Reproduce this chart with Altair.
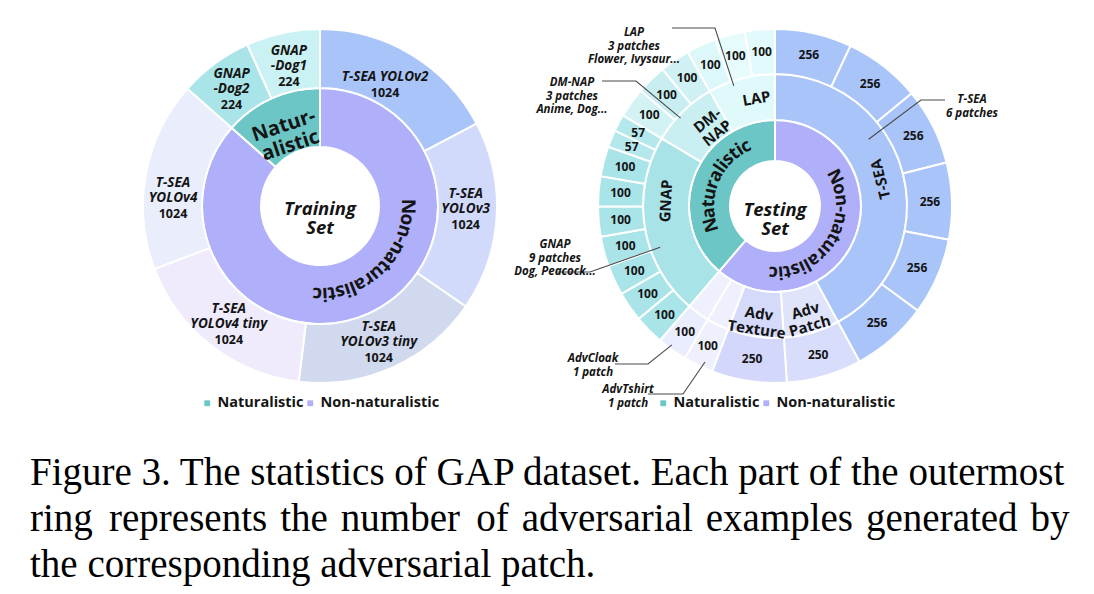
import math
import altair as alt
import pandas as pd

# ------------------------------------------------------------------
# Data
# ------------------------------------------------------------------
GROUPS = ["Naturalistic", "Non-naturalistic"]

# Training set (left sunburst): outer ring, clockwise from 12 o'clock
TRAIN_PATCH_LABELS = ["T-SEA YOLOv2", "T-SEA\nYOLOv3", "T-SEA\nYOLOv3 tiny",
                      "T-SEA\nYOLOv4 tiny", "T-SEA\nYOLOv4", "GNAP\n-Dog2", "GNAP\n-Dog1"]
TRAIN_PATCH_GROUP = ["Non-naturalistic", "Non-naturalistic", "Non-naturalistic",
                     "Non-naturalistic", "Non-naturalistic", "Naturalistic", "Naturalistic"]
TRAIN_PATCH_COUNTS = [1024, 1024, 1024, 1024, 1024, 224, 224]
# the left figure is not drawn to scale: angular size of each slice as drawn (degrees)
TRAIN_PATCH_DRAWN_DEG = [62.3, 62.3, 62.3, 62.3, 62.3, 24.25, 24.25]
TRAIN_INNER_LABELS = ["Non-naturalistic", "Natur-\nalistic"]

# Testing set (right sunburst): middle ring families, clockwise from 12 o'clock
TEST_FAMILIES = ["T-SEA", "Adv Patch", "Adv Texture", "AdvTshirt", "AdvCloak", "GNAP", "DM-NAP", "LAP"]
TEST_FAMILY_LABELS = ["T-SEA", "Adv\nPatch", "Adv\nTexture", "", "", "GNAP", "DM-\nNAP", "LAP"]
TEST_FAMILY_GROUP = ["Non-naturalistic", "Non-naturalistic", "Non-naturalistic", "Non-naturalistic",
                     "Non-naturalistic", "Naturalistic", "Naturalistic", "Naturalistic"]
# outer ring: one cell per adversarial patch
TEST_PATCH_FAMILY = ["T-SEA", "T-SEA", "T-SEA", "T-SEA", "T-SEA", "T-SEA",
                     "Adv Patch", "Adv Texture", "AdvTshirt", "AdvCloak",
                     "GNAP", "GNAP", "GNAP", "GNAP", "GNAP", "GNAP", "GNAP", "GNAP", "GNAP",
                     "DM-NAP", "DM-NAP", "DM-NAP", "LAP", "LAP", "LAP"]
TEST_PATCH_COUNTS = [256, 256, 256, 256, 256, 256, 250, 250, 100, 100,
                     100, 100, 100, 100, 100, 100, 100, 57, 57,
                     100, 100, 100, 100, 100, 100]

# call-out annotations on the testing set
CALLOUT_FAMILY = ["LAP", "DM-NAP", "GNAP", "T-SEA", "AdvCloak", "AdvTshirt"]
CALLOUT_TEXT = ["LAP\n3 patches\nFlower, Ivysaur...", "DM-NAP\n3 patches\nAnime, Dog...",
                "GNAP\n9 patches\nDog, Peacock...", "T-SEA\n6 patches",
                "AdvCloak\n1 patch", "AdvTshirt\n1 patch"]

CAPTION_LINES = ["Figure 3. The statistics of GAP dataset. Each part of the outermost",
                 "ring represents the number of adversarial examples generated by",
                 "the corresponding adversarial patch."]

# ------------------------------------------------------------------
# Styles / layout
# ------------------------------------------------------------------
FONT = "Open Sans"
INK = "#141414"
GROUP_COLORS = ["#6cc6c6", "#afaffa"]
TRAIN_OUTER_COLORS = ["#a9c4f9", "#d2dafc", "#d0d9ee", "#efebfc", "#e9edfc", "#a9e4e9", "#caf1f3"]
TEST_MID_COLORS = ["#a9c4f9", "#dfe3fc", "#d5dafb", "#eef0fd", "#eef0fd", "#a8e3e8", "#c9eff2", "#e0fafb"]
TEST_OUTER_COLORS = (["#a9c4f9"] * 6 + ["#d8ddfc", "#d2d7fb", "#eef0fd", "#eaedfd"]
                     + ["#a9e4e9"] * 7 + ["#b4e8ec", "#b4e8ec"]
                     + ["#d3f2f4", "#c8eef1", "#d0f1f3", "#dcf8fa", "#e6fbfc", "#e2fafb"])

M = 8  # page margin
L_CX, L_CY = 320 - M, 206 - M
R_CX, R_CY = 775 - M, 206 - M

# label placement tweaks (angle offset deg, radius px)
LEFT_LABEL_DANGLE = [-3, 0.5, 2, -2, -10, -2.5, -1]
LEFT_LABEL_R = [138, 146, 155, 155, 147, 141, 137]
RIGHT_MID_LABEL_DANGLE = [0, 0, 0, 0, 0, 12, 6, 5]

# call-out layout (page pixels): text centre, leader start/elbow, anchor position in slice
CALLOUT_LAYOUT = [
    dict(tx=634, ty=33, path=[(672, 28), (715, 28)], frac=0.36, r=127),
    dict(tx=572, ty=83, path=[(602, 81), (636, 81)], frac=0.41, r=129),
    dict(tx=555, ty=245, path=[(557, 272), (590, 272)], frac=0.37, r=122),
    dict(tx=972, ty=100, path=[(945, 100), (921, 100)], frac=0.36, r=115),
    dict(tx=593, ty=359, path=[(615, 364), (648, 364)], frac=0.60, r=173),
    dict(tx=628, ty=390, path=[(648, 394), (683, 394)], frac=0.34, r=171),
]

CHAR_EM = {"N": 0.76, "o": 0.62, "n": 0.64, "-": 0.34, "a": 0.6, "t": 0.43, "u": 0.64,
           "r": 0.45, "l": 0.29, "i": 0.29, "s": 0.5, "c": 0.51}


def stack_table(values):
    total = float(sum(values))
    starts, mids = [], []
    acc = 0.0
    for v in values:
        starts.append(acc)
        mids.append(acc + v / 2.0)
        acc += v
    return starts, mids, total


def readable_rot(deg):
    r = deg - 180 if deg < 240 else deg
    return r % 360


def curved_label(text, center_deg, radius_px, font_px, total):
    widths = [CHAR_EM.get(c, 0.6) * font_px for c in text]
    acc = -sum(widths) / 2.0
    rows = []
    for i, (c, w) in enumerate(zip(text, widths)):
        s = acc + w / 2.0
        deg = (center_deg + math.degrees(s / radius_px)) % 360
        rows.append({"ch": c, "theta": deg / 360.0 * total, "rot": deg, "k": i})
        acc += w
    return pd.DataFrame(rows)


def justify(line, extra):
    # widen word gaps slightly with hair / six-per-em spaces (justified caption)
    words = line.split(" ")
    out = words[0]
    for i, w in enumerate(words[1:]):
        out += " " + (extra[i] if i < len(extra) else "") + w
    return out


def legend(x):
    return alt.Legend(orient="none", legendX=x, legendY=388, direction="horizontal", title=None,
                      symbolType="square", symbolSize=34, symbolStrokeWidth=0,
                      labelFont=FONT, labelFontSize=14.5, labelFontWeight="bold",
                      labelColor=INK, columnPadding=-1, labelOffset=3, padding=0,
                      gridAlign="none")


def arcs(df, r0, r1, cx, cy, total, color_enc=None):
    enc = dict(theta=alt.Theta("value:Q", stack=True, scale=alt.Scale(domain=[0, total])),
               order=alt.Order("idx:Q"), x=alt.value(cx), y=alt.value(cy))
    if color_enc is not None:
        enc["color"] = color_enc
    else:
        enc["fill"] = alt.Fill("fill:N", scale=None)
    return alt.Chart(df).mark_arc(innerRadius=r0, outerRadius=r1, stroke="white",
                                  strokeWidth=2).encode(**enc)


def polar_text(df, field, cx, cy, total, radius=None, rot_field=None, theta_field="mid",
               radius_field=None, **kw):
    enc = dict(theta=alt.Theta(theta_field + ":Q", stack=False, scale=alt.Scale(domain=[0, total])),
               text=alt.Text(field), x=alt.value(cx), y=alt.value(cy))
    if rot_field:
        enc["angle"] = alt.Angle(rot_field + ":Q", scale=None)
    if radius_field:
        enc["radius"] = alt.Radius(radius_field + ":Q", scale=None)
    base = dict(font=FONT, color=INK, fontWeight="bold", lineBreak="\n")
    if radius is not None:
        base["radius"] = radius
    base.update(kw)
    return alt.Chart(df).mark_text(**base).encode(**enc)


def group_color():
    return alt.Color("group:N", scale=alt.Scale(domain=GROUPS, range=GROUP_COLORS))


# ------------------------------------------------------------------
# Left: training set
# ------------------------------------------------------------------
ls, lm, ltot = stack_table(TRAIN_PATCH_DRAWN_DEG)
left_outer = pd.DataFrame({"idx": range(len(TRAIN_PATCH_LABELS)), "value": TRAIN_PATCH_DRAWN_DEG,
                           "name": TRAIN_PATCH_LABELS, "count": [str(c) for c in TRAIN_PATCH_COUNTS],
                           "group": TRAIN_PATCH_GROUP, "fill": TRAIN_OUTER_COLORS, "mid": lm})
left_outer["lab_theta"] = [m + d / 360.0 * ltot for m, d in zip(lm, LEFT_LABEL_DANGLE)]
left_outer["lab_r"] = LEFT_LABEL_R
left_outer["nlines"] = [n.count("\n") + 1 for n in TRAIN_PATCH_LABELS]
left_inner = (left_outer.groupby("group", sort=False)["value"].sum().reset_index())
left_inner["idx"] = range(len(left_inner))
left_inner["label"] = TRAIN_INNER_LABELS
_, lim, _ = stack_table(list(left_inner["value"]))
left_inner["mid"] = lim
left_inner["rot"] = [(readable_rot(m / ltot * 360) + 6) % 360 for m in lim]

left_straight = left_inner[left_inner["group"] == "Naturalistic"]
nn_mid_deg = float(left_inner.loc[left_inner["group"] == "Non-naturalistic", "mid"].iloc[0]) / ltot * 360
left_curved = curved_label("Non-naturalistic", nn_mid_deg - 20.5, 88, 19, ltot)


def left_names(n, dy):
    return polar_text(left_outer, "name:N", L_CX, L_CY, ltot, theta_field="lab_theta",
                      radius_field="lab_r", baseline="alphabetic", fontStyle="italic",
                      fontSize=13.5, lineHeight=15, dy=dy).transform_filter(alt.datum.nlines == n)


left_layers = [
    arcs(left_inner, 59, 118, L_CX, L_CY, ltot,
         color_enc=group_color().legend(legend(192))),
    arcs(left_outer, 118, 177, L_CX, L_CY, ltot),
    left_names(1, -3),
    left_names(2, -18),
    polar_text(left_outer, "count:N", L_CX, L_CY, ltot, theta_field="lab_theta",
               radius_field="lab_r", baseline="top", fontSize=12.5, dy=3),
    polar_text(left_straight, "label:N", L_CX, L_CY, ltot, 88, rot_field="rot",
               fontSize=20, lineHeight=21, baseline="middle"),
    alt.Chart(left_curved).mark_text(radius=88, font=FONT, fontWeight="bold", fontSize=19,
                                     color=INK, baseline="middle").encode(
        theta=alt.Theta("theta:Q", stack=False, scale=alt.Scale(domain=[0, ltot])),
        angle=alt.Angle("rot:Q", scale=None), text="ch:N",
        x=alt.value(L_CX), y=alt.value(L_CY)),
    alt.Chart(pd.DataFrame({"t": ["Training\nSet"]})).mark_text(
        font=FONT, fontWeight="bold", fontStyle="italic", fontSize=18.5, lineHeight=19,
        color=INK, lineBreak="\n", baseline="middle").encode(
        text="t:N", x=alt.value(L_CX), y=alt.value(L_CY + 3)),
]
left = alt.layer(*left_layers)

# ------------------------------------------------------------------
# Right: testing set
# ------------------------------------------------------------------
rs, rm, rtot = stack_table(TEST_PATCH_COUNTS)
right_outer = pd.DataFrame({"idx": range(len(TEST_PATCH_COUNTS)), "value": TEST_PATCH_COUNTS,
                            "family": TEST_PATCH_FAMILY, "fill": TEST_OUTER_COLORS, "mid": rm,
                            "count": [str(c) for c in TEST_PATCH_COUNTS]})
fam_tot = right_outer.groupby("family", sort=False)["value"].sum()
right_mid = pd.DataFrame({"idx": range(len(TEST_FAMILIES)), "family": TEST_FAMILIES,
                          "value": [fam_tot[f] for f in TEST_FAMILIES],
                          "label": TEST_FAMILY_LABELS, "group": TEST_FAMILY_GROUP,
                          "fill": TEST_MID_COLORS})
fs, fm, _ = stack_table(list(right_mid["value"]))
right_mid["start"] = fs
right_mid["mid"] = fm
right_mid["lab_theta"] = [m + d / 360.0 * rtot for m, d in zip(fm, RIGHT_MID_LABEL_DANGLE)]
right_mid["rot"] = [readable_rot(t / rtot * 360) for t in right_mid["lab_theta"]]
right_inner = right_mid.groupby("group", sort=False)["value"].sum().reset_index()
right_inner["idx"] = range(len(right_inner))
_, gim, _ = stack_table(list(right_inner["value"]))
g_mid_deg = {g: m / rtot * 360 for g, m in zip(right_inner["group"], gim)}
right_curved_nn = curved_label("Non-naturalistic", g_mid_deg["Non-naturalistic"] + 11.5, 65, 18, rtot)
right_curved_n = curved_label("Naturalistic", g_mid_deg["Naturalistic"] + 2.5, 66, 18, rtot)
right_curved = pd.concat([right_curved_nn, right_curved_n], ignore_index=True)

# call-out leader lines: start/elbow from layout, anchor from the slice's angle
fam_lookup = right_mid.set_index("family")
line_rows, text_rows = [], []
for fam, txt, lay in zip(CALLOUT_FAMILY, CALLOUT_TEXT, CALLOUT_LAYOUT):
    st = fam_lookup.loc[fam, "start"]
    val = fam_lookup.loc[fam, "value"]
    phi = math.radians((st + lay["frac"] * val) / rtot * 360)
    ax = R_CX + lay["r"] * math.sin(phi)
    ay = R_CY - lay["r"] * math.cos(phi)
    pts = [(px - M, py - M) for px, py in lay["path"]] + [(ax, ay)]
    for k, (px, py) in enumerate(pts):
        line_rows.append({"name": fam, "k": k, "x": px, "y": py})
    text_rows.append({"name": fam, "t": txt, "x": lay["tx"] - M, "y": lay["ty"] - M})
callout_lines = pd.DataFrame(line_rows)
callout_text = pd.DataFrame(text_rows)

right_layers = [
    arcs(right_inner, 45, 86, R_CX, R_CY, rtot,
         color_enc=group_color().legend(legend(648))),
    arcs(right_mid, 86, 132, R_CX, R_CY, rtot),
    arcs(right_outer, 132, 177, R_CX, R_CY, rtot),
    polar_text(right_mid, "label:N", R_CX, R_CY, rtot, 109, rot_field="rot",
               theta_field="lab_theta", fontSize=15, lineHeight=16, baseline="middle"),
    polar_text(right_outer, "count:N", R_CX, R_CY, rtot, 155, fontSize=12,
               baseline="middle"),
    alt.Chart(right_curved).mark_text(radius=66, font=FONT, fontWeight="bold", fontSize=18,
                                      color=INK, baseline="middle").encode(
        theta=alt.Theta("theta:Q", stack=False, scale=alt.Scale(domain=[0, rtot])),
        angle=alt.Angle("rot:Q", scale=None), text="ch:N",
        x=alt.value(R_CX), y=alt.value(R_CY)),
    alt.Chart(pd.DataFrame({"t": ["Testing\nSet"]})).mark_text(
        font=FONT, fontWeight="bold", fontStyle="italic", fontSize=18.5, lineHeight=19,
        color=INK, lineBreak="\n", baseline="middle").encode(
        text="t:N", x=alt.value(R_CX), y=alt.value(R_CY + 4)),
    alt.Chart(callout_lines).mark_line(color="#4a4a4a", strokeWidth=1.1).encode(
        x=alt.X("x:Q", scale=None, axis=None), y=alt.Y("y:Q", scale=None, axis=None),
        detail="name:N", order="k:Q"),
    alt.Chart(callout_text).mark_text(font=FONT, fontWeight="bold", fontStyle="italic",
                                      fontSize=11.5, lineHeight=13.5, color=INK,
                                      lineBreak="\n", baseline="middle").encode(
        x=alt.X("x:Q", scale=None, axis=None), y=alt.Y("y:Q", scale=None, axis=None),
        text="t:N"),
]
right = alt.layer(*right_layers)

# ------------------------------------------------------------------
# Caption (justified look via thin extra spaces on line 2)
# ------------------------------------------------------------------
caption_text = "\n".join([
    CAPTION_LINES[0],
    justify(CAPTION_LINES[1], ["\u2006", "\u200a", "\u200a", "\u2006", "\u200a", "\u200a", "\u200a", "\u200a"]),
    CAPTION_LINES[2],
])
caption = alt.Chart(pd.DataFrame({"c": [caption_text]})).mark_text(
    font="Liberation Serif", fontSize=39, lineHeight=46, color="black", align="left",
    baseline="alphabetic", lineBreak="\n").encode(
    text="c:N", x=alt.value(30 - M), y=alt.value(485 - M))

chart = alt.layer(left, right, caption).resolve_scale(
    theta="independent", color="independent", x="independent", y="independent"
).properties(width=1078, height=578, padding=0,
             autosize=alt.AutoSizeParams(type="none")).configure_view(stroke=None)

chart.save("out.html", embed_options={"renderer": "svg", "actions": False})
